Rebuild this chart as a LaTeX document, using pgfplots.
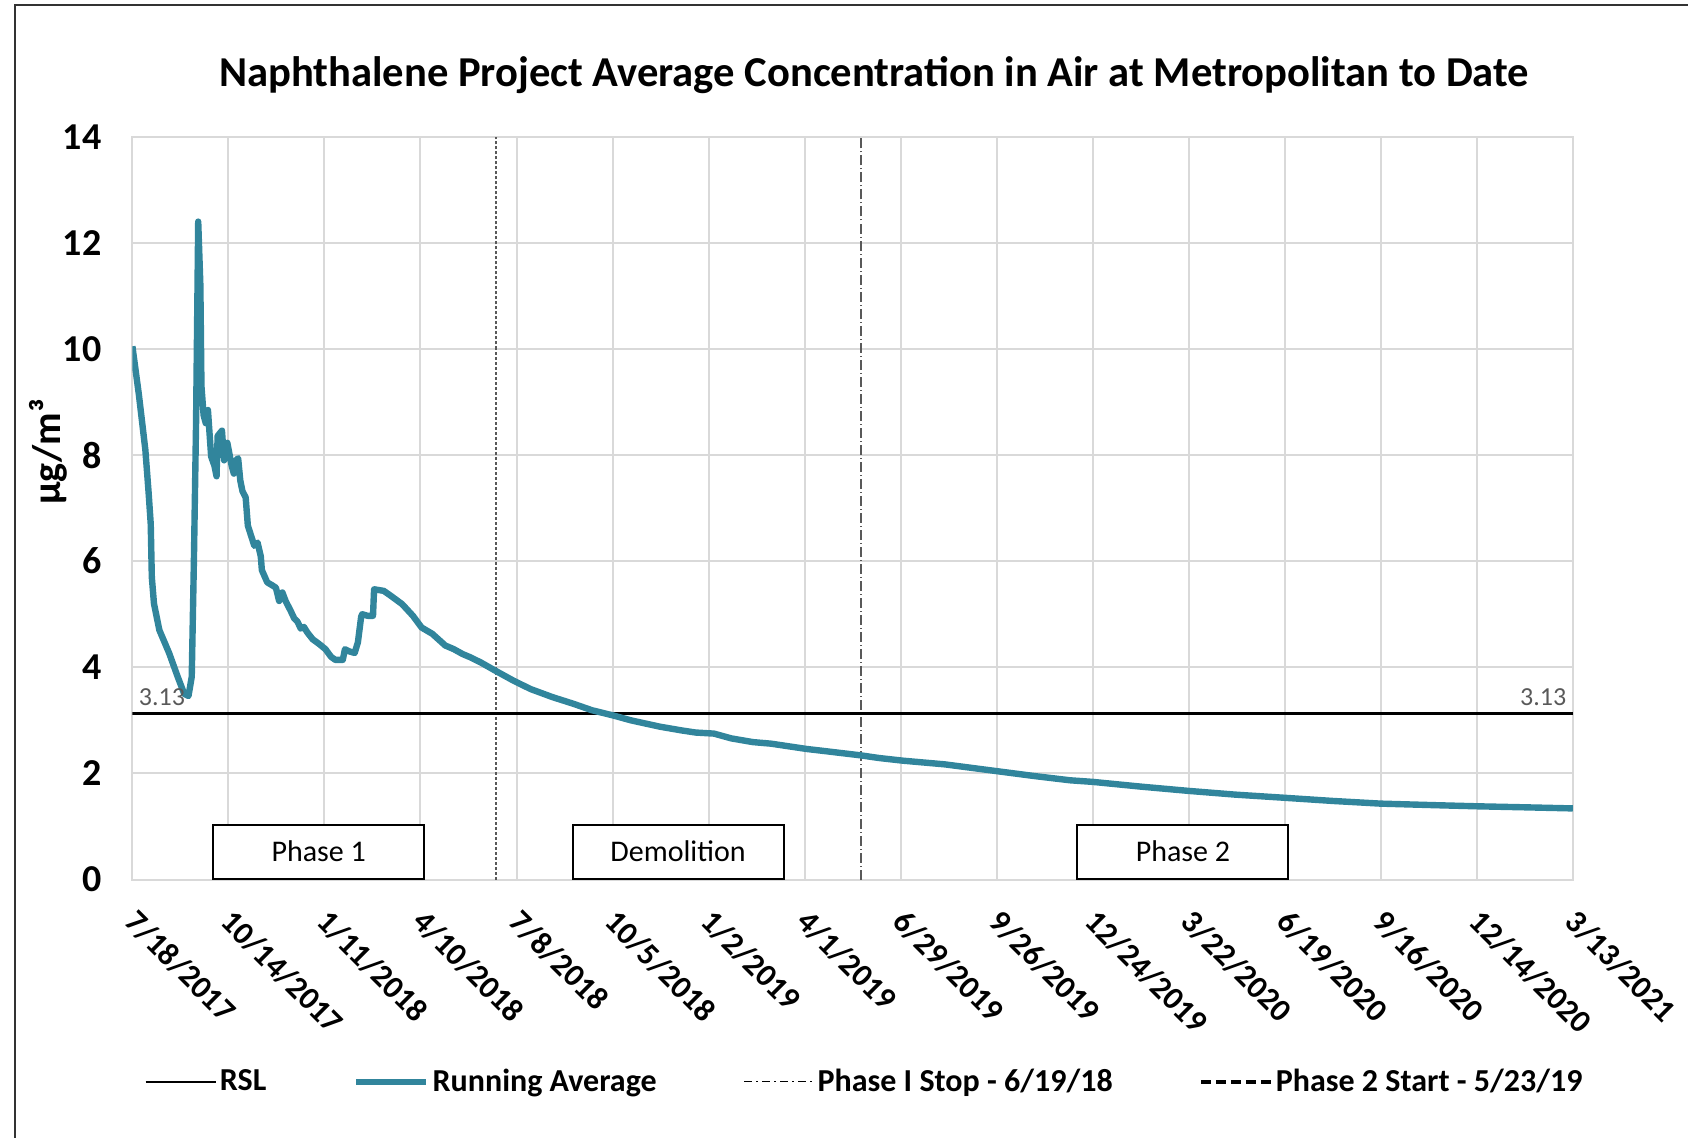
\documentclass[border=0pt]{standalone}
\usepackage{fontspec}
\setmainfont{Carlito}
\usepackage{pgfplots}
\pgfplotsset{compat=1.18}
\definecolor{teal1}{HTML}{31859C}
\definecolor{gridgray}{HTML}{D9D9D9}
\definecolor{lblgray}{HTML}{595959}

\begin{document}
\begin{tikzpicture}
\begin{axis}[
  width=720.2pt, height=371.4pt, scale only axis,
  xmin=0, xmax=1335, ymin=0, ymax=14,
  xtick={0,89,...,1335},
  xticklabels={7/18/2017,10/14/2017,1/11/2018,4/10/2018,7/8/2018,10/5/2018,1/2/2019,4/1/2019,6/29/2019,9/26/2019,12/24/2019,3/22/2020,6/19/2020,9/16/2020,12/14/2020,3/13/2021},
  ytick={0,2,...,14},
  grid=major, major grid style={gridgray, line width=1pt},
  axis line style={gridgray, line width=1pt},
  tick style={draw=none},
  /pgf/number format/assume math mode=true,
  yticklabel style={font=\fontsize{19}{21}\selectfont\bfseries, xshift=-12pt},
  xticklabel style={font=\fontsize{16}{18}\selectfont\bfseries, rotate=-45, anchor=north west, yshift=-4.2pt, xshift=8.9pt},
  title={Naphthalene Project Average Concentration in Air at Metropolitan to Date},
  title style={at={(axis description cs:0.5149,1.0871)}, anchor=center, yshift=-7.4pt, font=\fontsize{21.3}{25}\selectfont\bfseries},
  ylabel={µg/m³},
  ylabel style={at={(axis description cs:-0.0583,0.5755)}, anchor=center, font=\fontsize{20}{22}\selectfont\bfseries},
  legend image code/.code={\draw[#1] (0pt,0pt) -- (35pt,0pt);},
  legend columns=4,
  legend cell align=left,
  legend style={at={(axis description cs:0.5086,-0.2726)}, anchor=center, draw=none, fill=none,
    font=\fontsize{16}{18}\selectfont\bfseries,
    nodes={inner xsep=1.5pt},
    /tikz/every even column/.append style={column sep=42pt}},
]
\addplot[lblgray, line width=0.8pt, dash pattern=on 1.5pt off 1pt, forget plot] coordinates {(337,0) (337,14)};
\addplot[lblgray, line width=0.9pt, dash pattern=on 5pt off 1.5pt on 0.5pt off 1.5pt, forget plot] coordinates {(675,0) (675,14)};

\addplot[black, line width=1.2pt] coordinates {(0,3.13) (1335,3.13)};
\addlegendentry{RSL}

\addplot[teal1, line width=3.2pt, line join=round] table {
0 10.05
6 9.14
12 8.1
15 7.3
17 6.7
18 5.7
20 5.2
25 4.7
34 4.27
42 3.82
48 3.5
52 3.46
55 3.82
57 6.0
59 8.6
61 12.4
63 11.2
64 9.3
66 8.75
68 8.6
70 8.85
73 7.97
76 7.8
78 7.6
79 8.36
83 8.46
85 7.9
88 8.23
92 7.8
94 7.65
96 7.9
98 7.94
100 7.52
102 7.32
105 7.2
107 6.67
110 6.48
113 6.29
116 6.35
119 6.09
120 5.83
125 5.6
130 5.54
133 5.5
136 5.25
139 5.41
142 5.25
147 5.05
150 4.92
153 4.86
156 4.73
159 4.76
162 4.66
167 4.53
173 4.44
179 4.34
184 4.2
188 4.14
195 4.14
197 4.34
201 4.3
206 4.27
209 4.47
212 4.95
213 5.0
218 4.97
223 4.97
224 5.47
233 5.44
240 5.34
250 5.19
260 4.97
268 4.75
278 4.63
290 4.41
298 4.34
306 4.25
313 4.19
323 4.09
336 3.94
353 3.75
369 3.59
389 3.44
409 3.31
426 3.19
446 3.09
462 3.0
489 2.88
509 2.81
522 2.77
539 2.75
555 2.66
575 2.59
592 2.56
625 2.46
642 2.42
675 2.34
692 2.29
714 2.24
753 2.17
802 2.04
836 1.95
869 1.87
890 1.84
935 1.75
979 1.67
1022 1.60
1068 1.54
1113 1.48
1157 1.43
1209 1.40
1246 1.38
1292 1.36
1335 1.34
};
\addlegendentry{Running Average}

\addlegendimage{black, line width=0.5pt, dash pattern=on 4pt off 2pt on 1pt off 2pt}
\addlegendentry{Phase I Stop - 6/19/18}
\addlegendimage{black, line width=1.6pt, dash pattern=on 5pt off 2.5pt}
\addlegendentry{Phase 2 Start - 5/23/19}

\node[anchor=south west, text=lblgray, font=\fontsize{13}{15}\selectfont, inner sep=2pt] at (axis cs:2,3.2) {3.13};
\node[anchor=south east, text=lblgray, font=\fontsize{13}{15}\selectfont, inner sep=2pt] at (axis cs:1333,3.2) {3.13};

\node[draw=black, line width=1pt, fill=white, minimum width=105.5pt, minimum height=26.9pt, anchor=south west, font=\fontsize{15}{17}\selectfont, inner sep=0pt] at (axis cs:74,0) {Phase 1};
\node[draw=black, line width=1pt, fill=white, minimum width=105.5pt, minimum height=26.9pt, anchor=south west, font=\fontsize{15}{17}\selectfont, inner sep=0pt] at (axis cs:407,0) {Demolition};
\node[draw=black, line width=1pt, fill=white, minimum width=105.5pt, minimum height=26.9pt, anchor=south west, font=\fontsize{15}{17}\selectfont, inner sep=0pt] at (axis cs:875,0) {Phase 2};
\end{axis}
\draw[black!80, line width=1pt] (-58.7pt,-140pt) -- (-58.7pt,437.25pt) -- (800pt,437.25pt);
\pgfresetboundingbox
\useasboundingbox (-66.2pt,-128.75pt) rectangle (777.8pt,439.75pt);
\end{tikzpicture}
\end{document}
